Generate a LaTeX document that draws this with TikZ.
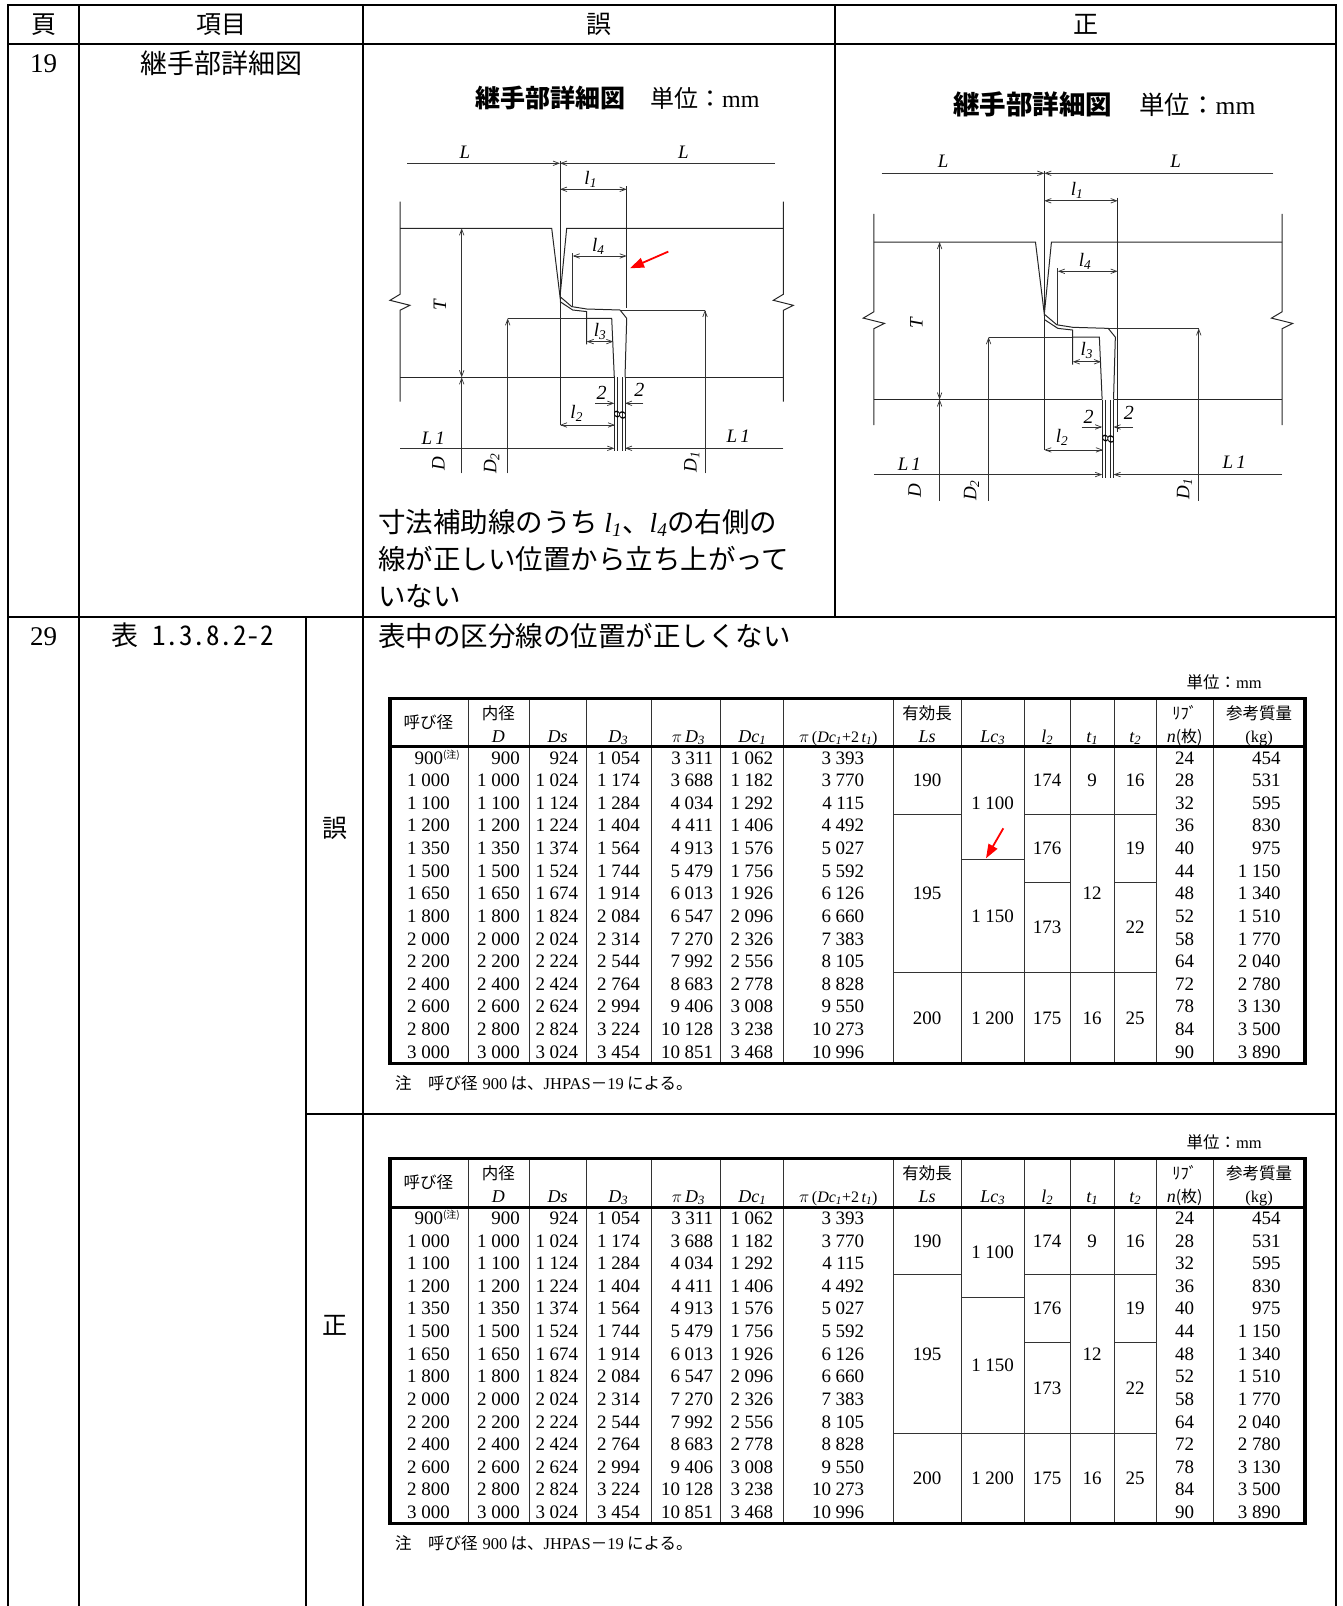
\documentclass[tikz,border=0pt]{standalone}
\usepackage{fontspec}
\usetikzlibrary{arrows.meta}
\setmainfont{Liberation Serif}
\newfontfamily\jp{Noto Sans CJK JP}
\newfontfamily\jphw{Noto Sans CJK JP}[RawFeature=+hwid]
\newcommand\fs[1]{\fontsize{#1}{#1}\selectfont}
\newcommand\tnote{\raisebox{6pt}{\jp\fs{10}(注)}}
\newcommand\tsp{\hspace{0.24em}}

\newcommand\jointdetail[3]{%
  \draw[dimarrow] (-152.7,0) -- (0,0);
  \draw[dimarrow] (215,0) -- (0,0);
  \node[lbl] (#1-La) at (-95,-11) {L};
  \node[lbl] (#1-Lb) at (123.3,-11) {L};
  \draw[part] (0,-2) -- (0,261.7);
  \draw[dimboth] (0,26) -- (#2,26);
  \node[lbl] (#1-l1) at (30.7,16) {l\textsubscript{1}};
  \draw[part] (#2,23) -- (#2,#3);
  \draw[part] (-160,65) -- (-8.3,65) -- (0,133.3) -- (6.7,65) -- (223.3,65);
  \draw[part] (-160,38.3) -- (-160,131) -- (-170,137) -- (-150,142) -- (-160,147) -- (-160,238.3);
  \draw[part] (223.3,38.3) -- (223.3,131) -- (213.3,137) -- (233.3,142) -- (223.3,147) -- (223.3,238.3);
  \draw[part] (-160,214) -- (54.3,214) (65,214) -- (223.3,214);
  \draw[dimboth] (-98.3,65) -- (-98.3,214);
  \node[lbl,rotate=90] (#1-T) at (-120,141.7) {T};
  \draw[dimarrow] (-98.3,310) -- (-98.3,214);
  \node[lbl,rotate=90] (#1-D) at (-121.7,300) {D};
  \draw[dimarrow] (-52.3,310) -- (-52.3,155);
  \draw[dim] (-52.3,155) -- (26.7,155);
  \node[lbl,rotate=90] (#1-D2) at (-68.3,300) {D\textsubscript{2}};
  \draw[dimarrow] (145,310) -- (145,146.7);
  \draw[dim] (60,146.7) -- (145,146.7);
  \node[lbl,rotate=90] (#1-D1) at (131.7,298.3) {D\textsubscript{1}};
  \draw[part] (0,133.3) -- (11.7,143.3) -- (26.7,145.7) -- (60,146.7) -- (66.7,155) -- (65,214);
  \draw[part] (0,138.3) -- (12.7,146.7) -- (26.7,148.3) -- (26.7,181);
  \draw[part] (26.7,155) -- (51.7,155) -- (54.3,214);
  \draw[dimboth] (26.7,178.3) -- (53.3,178.3);
  \node[lbl] (#1-l3) at (40,168) {l\textsubscript{3}};
  \draw[dimboth] (12.7,92.7) -- (#2,92.7);
  \draw[dim] (12.7,90) -- (12.7,143.3);
  \node[lbl] (#1-l4) at (38.3,83) {l\textsubscript{4}};
  \foreach \x in {54.3,57.3,62,65} \draw[part] (\x,214) -- (\x,288);
  \draw[dimarrow] (35,240) -- (54.3,240);
  \draw[dimarrow] (83.3,240) -- (65,240);
  \node[lbl] (#1-2a) at (41.7,230) {\fs{20}2};
  \node[lbl] (#1-2b) at (79.3,227) {\fs{20}2};
  \node[lbl,rotate=90] (#1-8) at (60,252) {\fs{17}8};
  \draw[dimboth] (0,261.7) -- (55,261.7);
  \node[lbl] (#1-l2) at (16.7,250) {l\textsubscript{2}};
  \draw[dimarrow] (-160,285) -- (54.3,285);
  \draw[dimarrow] (223.3,285) -- (65,285);
  \node[lbl] (#1-L1a) at (-126.7,275) {L\,1};
  \node[lbl] (#1-L1b) at (178.3,273.3) {L\,1};
}

\newcommand\pipetable[3]{%
\begin{scope}[shift={(0,#2)}]
  \pgfmathsetmacro\lcy{746.7+#3*22.62}
  \pgfmathsetmacro\lca{746.7+#3/2*22.62+6.1}
  \pgfmathsetmacro\lcb{746.7+(#3+10)/2*22.62+6.1}
  \node[jsmall,anchor=base east] (#1-unit) at (1262,688) {{\jp 単位：}mm};
  \foreach \x in {468.3,529,586.7,651.7,720.7,783.3,893.3,961,1024.3,1070,1114.3,1156,1213.3}
    \draw[trule] (\x,698.3) -- (\x,1063.3);
  \draw[trule] (893.3,814.6) -- (961,814.6) (1024.3,814.6) -- (1156,814.6);
  \draw[trule] (961,\lcy) -- (1024.3,\lcy);
  \draw[trule] (1024.3,882.4) -- (1070,882.4) (1114.3,882.4) -- (1156,882.4);
  \draw[trule] (893.3,972.9) -- (1156,972.9);
  \draw[line width=3.5pt] (390,698.3) rectangle (1305,1063.3);
  \draw[line width=3pt] (390,746.7) -- (1305,746.7);
  \node[jsmall] (#1-h1) at (428.3,728) {\jp 呼び径};
  \node[jsmall] (#1-h2a) at (498.3,719.6) {\jp 内径};
  \node[ihead] (#1-h2b) at (498.3,742) {D};
  \node[ihead] (#1-h3) at (557.7,742) {Ds};
  \node[ihead] (#1-h4) at (618.3,742) {D\textsubscript{3}};
  \node[ihead] (#1-h5) at (688.3,742) {$\pi$\,D\textsubscript{3}};
  \node[ihead] (#1-h6) at (752.3,742) {Dc\textsubscript{1}};
  \node[ihead,font=\fs{16}\itshape] (#1-h7) at (838.3,742) {$\pi$\,{\upshape(}Dc\textsubscript{1}{\upshape+2}\,t\textsubscript{1}{\upshape)}};
  \node[jsmall] (#1-h8a) at (927.2,719.6) {\jp 有効長};
  \node[ihead] (#1-h8b) at (927.2,742) {Ls};
  \node[ihead] (#1-h9) at (992.7,742) {Lc\textsubscript{3}};
  \node[ihead] (#1-h10) at (1047.2,742) {l\textsubscript{2}};
  \node[ihead] (#1-h11) at (1092.2,742) {t\textsubscript{1}};
  \node[ihead] (#1-h12) at (1135.2,742) {t\textsubscript{2}};
  \node[jsmall] (#1-h13a) at (1184.7,719.6) {\jp ﾘﾌﾞ};
  \node[ihead] (#1-h13b) at (1184.7,742) {n{\upshape\jp\fs{16}(枚)}};
  \node[jsmall] (#1-h14a) at (1259.2,719.6) {\jp 参考質量};
  \node[jsmall] (#1-h14b) at (1259.2,742) {(kg)};
  \foreach [count=\i] \ca/\cb/\cc/\cd/\ce/\cf/\cg/\cn/\cm in {
    900\tnote\hspace*{-10pt}/900/924/1\tsp054/3\tsp311/1\tsp062/3\tsp393/24/454,
    1\tsp000/1\tsp000/1\tsp024/1\tsp174/3\tsp688/1\tsp182/3\tsp770/28/531,
    1\tsp100/1\tsp100/1\tsp124/1\tsp284/4\tsp034/1\tsp292/4\tsp115/32/595,
    1\tsp200/1\tsp200/1\tsp224/1\tsp404/4\tsp411/1\tsp406/4\tsp492/36/830,
    1\tsp350/1\tsp350/1\tsp374/1\tsp564/4\tsp913/1\tsp576/5\tsp027/40/975,
    1\tsp500/1\tsp500/1\tsp524/1\tsp744/5\tsp479/1\tsp756/5\tsp592/44/1\tsp150,
    1\tsp650/1\tsp650/1\tsp674/1\tsp914/6\tsp013/1\tsp926/6\tsp126/48/1\tsp340,
    1\tsp800/1\tsp800/1\tsp824/2\tsp084/6\tsp547/2\tsp096/6\tsp660/52/1\tsp510,
    2\tsp000/2\tsp000/2\tsp024/2\tsp314/7\tsp270/2\tsp326/7\tsp383/58/1\tsp770,
    2\tsp200/2\tsp200/2\tsp224/2\tsp544/7\tsp992/2\tsp556/8\tsp105/64/2\tsp040,
    2\tsp400/2\tsp400/2\tsp424/2\tsp764/8\tsp683/2\tsp778/8\tsp828/72/2\tsp780,
    2\tsp600/2\tsp600/2\tsp624/2\tsp994/9\tsp406/3\tsp008/9\tsp550/78/3\tsp130,
    2\tsp800/2\tsp800/2\tsp824/3\tsp224/10\tsp128/3\tsp238/10\tsp273/84/3\tsp500,
    3\tsp000/3\tsp000/3\tsp024/3\tsp454/10\tsp851/3\tsp468/10\tsp996/90/3\tsp890}{
    \pgfmathsetmacro\yy{746.7+(\i-0.5)*22.62+6.1}
    \node[tnum] (#1-a\i) at (450,\yy) {\ca};
    \node[tnum] (#1-b\i) at (520,\yy) {\cb};
    \node[tnum] (#1-c\i) at (578.3,\yy) {\cc};
    \node[tnum] (#1-d\i) at (640,\yy) {\cd};
    \node[tnum] (#1-e\i) at (713.3,\yy) {\ce};
    \node[tnum] (#1-f\i) at (773.3,\yy) {\cf};
    \node[tnum] (#1-g\i) at (864.3,\yy) {\cg};
    \node[tnum,anchor=base] (#1-n\i) at (1184.7,\yy) {\cn};
    \node[tnum] (#1-m\i) at (1280.7,\yy) {\cm};
  }
  \node[tval] (#1-ls1) at (927.2,786.7) {190};
  \node[tval] (#1-ls2) at (927.2,899.8) {195};
  \node[tval] (#1-ls3) at (927.2,1024.2) {200};
  \node[tval] (#1-lc1) at (992.7,\lca) {1\tsp100};
  \node[tval] (#1-lc2) at (992.7,\lcb) {1\tsp150};
  \node[tval] (#1-lc3) at (992.7,1024.2) {1\tsp200};
  \node[tval] (#1-lt1) at (1047.2,786.7) {174};
  \node[tval] (#1-lt2) at (1047.2,854.6) {176};
  \node[tval] (#1-lt3) at (1047.2,933.8) {173};
  \node[tval] (#1-lt4) at (1047.2,1024.2) {175};
  \node[tval] (#1-ta1) at (1092.2,786.7) {9};
  \node[tval] (#1-ta2) at (1092.2,899.8) {12};
  \node[tval] (#1-ta3) at (1092.2,1024.2) {16};
  \node[tval] (#1-tb1) at (1135.2,786.7) {16};
  \node[tval] (#1-tb2) at (1135.2,854.6) {19};
  \node[tval] (#1-tb3) at (1135.2,933.8) {22};
  \node[tval] (#1-tb4) at (1135.2,1024.2) {25};
  \node[jsmall,anchor=base west] (#1-note) at (395,1089) {{\jp 注　呼び径}\hspace{0.3em}900\hspace{0.2em}{\jp は、}JHPAS{\jp －}19\hspace{0.2em}{\jp による。}};
\end{scope}}

\begin{document}
\begin{tikzpicture}[x=1pt,y=-1pt,
    rule/.style={line width=2pt},
    part/.style={line width=1pt,black!85},
    dim/.style={line width=0.7pt,black!80},
    dimarrow/.style={dim,-{Straight Barb[length=6pt,width=4.5pt]}},
    dimboth/.style={dim,{Straight Barb[length=6pt,width=4.5pt]}-{Straight Barb[length=6pt,width=4.5pt]}},
    lbl/.style={font=\fs{19}\itshape,inner sep=0pt},
    redarrow/.style={red,line width=1.8pt,-{Triangle[length=14pt,width=10pt]}},
    head/.style={font=\jp\fs{25},inner sep=0pt,anchor=base},
    body/.style={font=\jp\fs{27.5},inner sep=0pt,anchor=base west},
    trule/.style={line width=0.9pt,black!80},
    tnum/.style={font=\fs{19},inner sep=0pt,anchor=base east},
    tval/.style={font=\fs{19},inner sep=0pt,anchor=base},
    jsmall/.style={font=\fs{16.5},inner sep=0pt,anchor=base},
    ihead/.style={font=\fs{18}\itshape,inner sep=0pt,anchor=base}]
  \useasboundingbox (0,0) rectangle (1343,1606);
  \draw[rule] (8,5) -- (1336,5);
  \draw[rule] (8,44) -- (1336,44);
  \draw[rule] (8,617) -- (1336,617);
  \draw[rule] (306,1114) -- (1336,1114);
  \draw[rule] (8,4) -- (8,1606);
  \draw[rule] (79,4) -- (79,1606);
  \draw[rule] (363,4) -- (363,1606);
  \draw[rule] (835,4) -- (835,617);
  \draw[rule] (1336,4) -- (1336,1606);
  \draw[rule] (306,617) -- (306,1606);
  \node[head] (hpage) at (43.5,33.5) {頁};
  \node[head] (hitem) at (221,33.5) {項目};
  \node[head] (hwrong) at (599,33.5) {誤};
  \node[head] (hright) at (1085.5,33.5) {正};
  \node[font=\fs{27},inner sep=0pt,anchor=base] (p19) at (43.5,72) {19};
  \node[head,font=\jp\fs{27}] (i19) at (221,73) {継手部詳細図};
  \node[font=\fs{27},inner sep=0pt,anchor=base] (p29) at (43.5,645) {29};
  \node[head,font=\jphw\fs{27}] (i29) at (192.5,645) {表 1.3.8.2-2};
  \node[head] (swrong) at (334.5,837.5) {誤};
  \node[head] (sright) at (334.5,1334.5) {正};
  \node[inner sep=0pt,anchor=base west] (gtitle) at (475,107) {{\jp\bfseries\fs{25}継手部詳細図}\hspace{25pt}{\jp\fs{24}単位：}{\fs{24}mm}};
  \node[inner sep=0pt,anchor=base west] (stitle) at (953,114) {{\jp\bfseries\fs{26.5}継手部詳細図}\hspace{27pt}{\jp\fs{25.5}単位：}{\fs{25.5}mm}};
  \begin{scope}[shift={(560,163.3)}]
    \jointdetail{g}{66.7}{145}
    \draw[redarrow] (108.3,88.3) -- (70,105);
  \end{scope}
  \begin{scope}[shift={(1044.3,173.3)},xscale=1.065,yscale=1.057]
    \jointdetail{s}{68.9}{245}
  \end{scope}
  \node[body] (gnote1) at (378,532) {寸法補助線のうち {\rmfamily\itshape l\textsubscript{1}}、{\rmfamily\itshape l\textsubscript{4}}の右側の};
  \node[body] (gnote2) at (378,569) {線が正しい位置から立ち上がって};
  \node[body] (gnote3) at (378,606) {いない};
  \node[body] (tnote) at (378,646) {表中の区分線の位置が正しくない};
  \pipetable{tg}{0}{5}
  \draw[redarrow] (1003.3,828.3) -- (986,858.3);
  \pipetable{ts}{460.3}{4}
\end{tikzpicture}
\end{document}
